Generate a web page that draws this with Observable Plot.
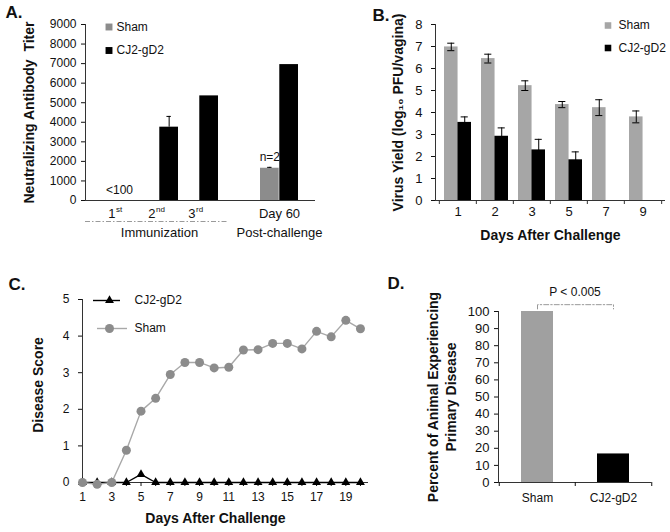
<!DOCTYPE html>
<html><head><meta charset="utf-8">
<script src="https://cdn.jsdelivr.net/npm/d3@7"></script>
<script src="https://cdn.jsdelivr.net/npm/@observablehq/plot@0.6"></script>
<style>
body{margin:0;background:#fff}
#fig{position:relative;width:670px;height:532px;overflow:hidden;background:#fff}
#fig svg{position:absolute;left:0;top:0}
</style></head><body><div id="fig"></div>
<script>
// ---------- Panel A: neutralizing antibody titer ----------
const titerGroups = ["1st", "2nd", "3rd", "Day 60"];
const titerTickMain = ["1", "2", "3", "Day 60"];
const titerTickSup = ["st", "nd", "rd", ""];
const titerSham = [null, null, null, 1650];
const titerShamErr = [null, null, null, 45];
const titerCJ2 = [null, 3750, 5350, 6950];
const titerCJ2Err = [null, 550, null, null];
const titerTicks = [0, 1000, 2000, 3000, 4000, 5000, 6000, 7000, 8000, 9000];

// ---------- Panel B: virus yield ----------
const yieldDays = ["1", "2", "3", "5", "7", "9"];
const yieldSham = [6.98, 6.45, 5.22, 4.36, 4.22, 3.8];
const yieldShamErr = [0.17, 0.2, 0.22, 0.14, 0.36, 0.27];
const yieldCJ2 = [3.55, 2.92, 2.3, 1.85, 0, 0];
const yieldCJ2Err = [0.25, 0.38, 0.48, 0.36, 0, 0];
const yieldTicks = [0, 1, 2, 3, 4, 5, 6, 7, 8];

// ---------- Panel C: disease score ----------
const scoreDays = [1,2,3,4,5,6,7,8,9,10,11,12,13,14,15,16,17,18,19,20];
const scoreSham = [0, -0.05, 0, 0.88, 1.95, 2.3, 2.95, 3.28, 3.28, 3.13, 3.15, 3.62, 3.63, 3.8, 3.8, 3.65, 4.13, 3.98, 4.43, 4.2];
const scoreCJ2 = [0, 0, 0, 0, 0.22, 0, 0, 0, 0, 0, 0, 0, 0, 0, 0, 0, 0, 0, 0, 0];
const scoreTicks = [0, 1, 2, 3, 4, 5];

// ---------- Panel D: percent with primary disease ----------
const diseaseGroups = ["Sham", "CJ2-gD2"];
const diseasePct = [100, 16.7];
const diseaseTicks = [0, 10, 20, 30, 40, 50, 60, 70, 80, 90, 100];
const pValueText = "P < 0.005";
const bracketLevels = [101.5, 104];

// ---------- shared ----------
const FONT = `"Liberation Sans", Arial, Helvetica, sans-serif`;
const W = 670, H = 532;
const INK = "#111";
const fig = document.getElementById("fig");
function mount(opts, fs) {
  const svg = Plot.plot({
    width: W, height: H,
    style: {background: "transparent", fontFamily: FONT, fontSize: fs + "px", color: INK, overflow: "visible"},
    ...opts
  });
  fig.append(svg);
}
function lab(text, o) {
  return Plot.text([text], {text: d => d, fill: INK, lineAnchor: "middle", ...o});
}
const bold = {fontWeight: "bold"};
const vlab = {frameAnchor: "left", rotate: -90, textAnchor: "middle", fontSize: 14, fontWeight: "bold"};

// ===== Panel A =====
{
  const rows = titerGroups.map((g, i) => ({g, main: titerTickMain[i], sup: titerTickSup[i],
    sham: titerSham[i], shamErr: titerShamErr[i], cj2: titerCJ2[i], cj2Err: titerCJ2Err[i]}));
  const domain = ["1st", "2nd", "3rd", "\u00a0", "Day 60"];
  const r0 = 98, r1 = 299, pin = 0.05;
  const step = (r1 - r0) / (domain.length - pin);
  const bw = step * (1 - pin);
  const shamRows = rows.filter(d => d.sham != null);
  const cjRows = rows.filter(d => d.cj2 != null);
  mount({
    marginLeft: 85, marginRight: 355, marginTop: 24, marginBottom: 332,
    x: {type: "band", domain, range: [r0, r1], paddingInner: pin, paddingOuter: 0, axis: null},
    y: {domain: [0, 9000], label: null},
    marks: [
      Plot.barY(shamRows, {x: "g", y: "sham", fill: "#8c8c8c", insetLeft: 0, insetRight: bw / 2}),
      Plot.barY(cjRows, {x: "g", y: "cj2", fill: "#000", insetLeft: bw / 2, insetRight: 0}),
      Plot.ruleX(rows.filter(d => d.cj2Err), {x: "g", y1: "cj2", y2: d => d.cj2 + d.cj2Err, dx: bw / 4, stroke: "#000"}),
      Plot.tickY(rows.filter(d => d.cj2Err), {x: "g", y: d => d.cj2 + d.cj2Err, insetLeft: bw * 0.75 - 2.5, insetRight: bw * 0.25 - 2.5, stroke: "#000"}),
      Plot.ruleX(rows.filter(d => d.shamErr), {x: "g", y1: "sham", y2: d => d.sham + d.shamErr, dx: -bw / 4, stroke: "#000"}),
      Plot.tickY(rows.filter(d => d.shamErr), {x: "g", y: d => d.sham + d.shamErr, insetLeft: bw * 0.25 - 2.5, insetRight: bw * 0.75 - 2.5, stroke: "#000"}),
      Plot.ruleY([0], {stroke: "#333"}),
      Plot.frame({anchor: "left", stroke: "#333"}),
      Plot.axisY({ticks: titerTicks, tickSize: 4, tickPadding: 5, tickFormat: d3.format("d"), label: null}),
      // category labels with superscripts
      Plot.text(rows.filter(d => d.sup), {x: "g", y: () => 0, text: "main", dy: 13, dx: -4, textAnchor: "end", fontSize: 13, fill: INK}),
      Plot.text(rows.filter(d => d.sup), {x: "g", y: () => 0, text: "sup", dy: 9, dx: -3.5, textAnchor: "start", fontSize: 8, fill: INK}),
      Plot.text(rows.filter(d => !d.sup), {x: "g", y: () => 0, text: "main", dy: 13, fontSize: 13, fill: INK}),
      Plot.ruleY([0], {dy: 21, insetRight: 87, stroke: "#9a9a9a", strokeDasharray: "5,2,1.5,2"}),
      Plot.text(rows.filter(d => d.g === "2nd"), {x: "g", y: () => 0, text: () => "Immunization", dy: 32, fontSize: 13, fill: INK}),
      Plot.text(rows.filter(d => d.g === "Day 60"), {x: "g", y: () => 0, text: () => "Post-challenge", dy: 32, fontSize: 13, fill: INK}),
      Plot.text(rows.filter(d => d.g === "1st"), {x: "g", y: () => 0, text: () => "<100", dy: -10, fontSize: 12, fill: INK}),
      Plot.text(shamRows, {x: "g", y: "sham", text: () => "n=2", dx: -bw / 4, dy: -11, fontSize: 12, fill: INK}),
      // legend
      Plot.dot([0], {frameAnchor: "top-left", dx: 23.5, dy: 2.5, symbol: "square", r: 3.9, fill: "#8c8c8c"}),
      Plot.dot([0], {frameAnchor: "top-left", dx: 23.5, dy: 26, symbol: "square", r: 3.9, fill: "#000"}),
      lab("Sham", {frameAnchor: "top-left", dx: 31, dy: 2.5, textAnchor: "start", fontSize: 12}),
      lab("CJ2-gD2", {frameAnchor: "top-left", dx: 31, dy: 26, textAnchor: "start", fontSize: 12}),
      // titles
      lab("Neutralizing Antibody  Titer", {...vlab, dx: -56}),
      lab("A.", {frameAnchor: "top-left", dx: -80, dy: -11.5, textAnchor: "start", fontSize: 17, ...bold})
    ]
  }, 12);
}

// ===== Panel B =====
{
  const rows = yieldDays.map((d, i) => ({d, sham: yieldSham[i], shamErr: yieldShamErr[i], cj2: yieldCJ2[i], cj2Err: yieldCJ2Err[i]}));
  const r0 = 438, r1 = 662, pin = 0.28, pout = 0.14;
  const step = (r1 - r0) / (yieldDays.length - pin + 2 * pout);
  const bw = step * (1 - pin);
  const cap = 3.5;
  mount({
    marginLeft: 435, marginRight: 5, marginTop: 24, marginBottom: 332,
    x: {type: "band", domain: yieldDays, range: [r0, r1], paddingInner: pin, paddingOuter: pout},
    y: {domain: [0, 8], label: null},
    marks: [
      Plot.barY(rows, {x: "d", y: "sham", fill: "#a6a6a6", insetLeft: 0, insetRight: bw / 2}),
      Plot.barY(rows, {x: "d", y: "cj2", fill: "#000", insetLeft: bw / 2, insetRight: 0}),
      Plot.ruleX(rows, {x: "d", y1: d => d.sham - d.shamErr, y2: d => d.sham + d.shamErr, dx: -bw / 4, stroke: "#000"}),
      Plot.tickY(rows, {x: "d", y: d => d.sham + d.shamErr, insetLeft: bw / 4 - cap, insetRight: bw * 0.75 - cap, stroke: "#000"}),
      Plot.tickY(rows, {x: "d", y: d => d.sham - d.shamErr, insetLeft: bw / 4 - cap, insetRight: bw * 0.75 - cap, stroke: "#000"}),
      Plot.ruleX(rows, {x: "d", y1: d => d.cj2 - d.cj2Err, y2: d => d.cj2 + d.cj2Err, dx: bw / 4, stroke: "#000"}),
      Plot.tickY(rows, {x: "d", y: d => d.cj2 + d.cj2Err, insetLeft: bw * 0.75 - cap, insetRight: bw / 4 - cap, stroke: "#000"}),
      Plot.ruleY([0], {stroke: "#333"}),
      Plot.frame({anchor: "left", stroke: "#333"}),
      Plot.axisY({ticks: yieldTicks, tickSize: 4, tickPadding: 9, label: null}),
      Plot.axisX({tickSize: 4, tickFormat: () => "", dx: -step / 2, label: null, stroke: "#333"}),
      Plot.axisX({ticks: [yieldDays[yieldDays.length - 1]], tickSize: 4, tickFormat: () => "", dx: step / 2, label: null, stroke: "#333"}),
      Plot.axisX({tickSize: 0, tickPadding: 6, label: null}),
      // legend
      Plot.dot([0], {frameAnchor: "top-left", dx: 172.5, dy: 1, symbol: "square", r: 3.7, fill: "#a6a6a6"}),
      Plot.dot([0], {frameAnchor: "top-left", dx: 172.5, dy: 23.5, symbol: "square", r: 3.7, fill: "#000"}),
      lab("Sham", {frameAnchor: "top-left", dx: 183, dy: 1, textAnchor: "start", fontSize: 12}),
      lab("CJ2-gD2", {frameAnchor: "top-left", dx: 183, dy: 23.5, textAnchor: "start", fontSize: 12}),
      lab("Virus Yield (log\u2081\u2080 PFU/vagina)", {...vlab, dx: -37}),
      lab("Days After Challenge", {frameAnchor: "bottom", dy: 35, fontSize: 14, ...bold}),
      lab("B.", {frameAnchor: "top-left", dx: -63, dy: -9, textAnchor: "start", fontSize: 17, ...bold})
    ]
  }, 13);
}

// ===== Panel C =====
{
  const sham = scoreDays.map((d, i) => ({d, v: scoreSham[i]}));
  const cj2 = scoreDays.map((d, i) => ({d, v: scoreCJ2[i]}));
  mount({
    marginLeft: 82, marginRight: 302, marginTop: 299, marginBottom: 50,
    x: {domain: [1, 20.55], label: null},
    y: {domain: [0, 5], label: null},
    marks: [
      Plot.ruleY([0], {stroke: "#333"}),
      Plot.frame({anchor: "left", stroke: "#333"}),
      Plot.axisY({ticks: scoreTicks, tickSize: 4, tickPadding: 9, tickFormat: d3.format("d"), label: null}),
      Plot.axisX({ticks: scoreDays, tickSize: 4, tickPadding: 6, tickFormat: d => d % 2 ? String(d) : "", label: null}),
      Plot.line(cj2, {x: "d", y: "v", stroke: "#000", strokeWidth: 1.4}),
      Plot.dot(cj2, {x: "d", y: "v", symbol: "triangle", r: 3.3, fill: "#000", stroke: "none"}),
      Plot.line(sham, {x: "d", y: "v", stroke: "#a8a8a8", strokeWidth: 1.4}),
      Plot.dot(sham, {x: "d", y: "v", symbol: "circle", r: 4.5, fill: "#8c8c8c", stroke: "none"}),
      // legend
      Plot.ruleY([5], {dy: 1, insetLeft: 11, insetRight: 248, stroke: "#000", strokeWidth: 1.4}),
      Plot.dot([0], {frameAnchor: "top-left", dx: 27, dy: 1, symbol: "triangle", r: 3.3, fill: "#000"}),
      Plot.ruleY([5], {dy: 29, insetLeft: 15, insetRight: 241, stroke: "#a8a8a8", strokeWidth: 1.4}),
      Plot.dot([0], {frameAnchor: "top-left", dx: 27, dy: 29, symbol: "circle", r: 4.5, fill: "#8c8c8c"}),
      lab("CJ2-gD2", {frameAnchor: "top-left", dx: 52, dy: 1, textAnchor: "start", fontSize: 12}),
      lab("Sham", {frameAnchor: "top-left", dx: 52, dy: 29, textAnchor: "start", fontSize: 12}),
      lab("Disease Score", {...vlab, dx: -44, dy: -6}),
      lab("Days After Challenge", {frameAnchor: "bottom", dx: -10, dy: 36, fontSize: 14, ...bold}),
      lab("C.", {frameAnchor: "top-left", dx: -74, dy: -15, textAnchor: "start", fontSize: 17, ...bold})
    ]
  }, 12);
}

// ===== Panel D =====
{
  const rows = diseaseGroups.map((g, i) => ({g, v: diseasePct[i]}));
  const r0 = 498, r1 = 651, pin = 0.58, pout = 0.29;
  const step = (r1 - r0) / (diseaseGroups.length - pin + 2 * pout);
  const bracket = [
    {g: diseaseGroups[0], v: bracketLevels[0]},
    {g: diseaseGroups[0], v: bracketLevels[1]},
    {g: diseaseGroups[1], v: bracketLevels[1]},
    {g: diseaseGroups[1], v: bracketLevels[0]}
  ];
  mount({
    marginLeft: 498, marginRight: 19, marginTop: 311, marginBottom: 50,
    x: {type: "band", domain: diseaseGroups, paddingInner: pin, paddingOuter: pout},
    y: {domain: [0, 100], label: null},
    marks: [
      Plot.barY(rows.filter(d => d.g === "Sham"), {x: "g", y: "v", fill: "#a0a0a0", inset: 0}),
      Plot.barY(rows.filter(d => d.g !== "Sham"), {x: "g", y: "v", fill: "#000", inset: 0}),
      Plot.ruleY([0], {stroke: "#333"}),
      Plot.frame({anchor: "left", stroke: "#333"}),
      Plot.axisY({ticks: diseaseTicks, tickSize: 4, tickPadding: 5, label: null}),
      Plot.axisX({tickSize: 4, tickFormat: () => "", dx: -step / 2, label: null}),
      Plot.axisX({ticks: [diseaseGroups[1]], tickSize: 4, tickFormat: () => "", dx: step / 2, label: null}),
      Plot.axisX({tickSize: 0, tickPadding: 11, label: null, fontSize: 12}),
      Plot.line(bracket, {x: "g", y: "v", stroke: "#999", strokeWidth: 1, strokeDasharray: "5,2,1.5,2"}),
      lab(pValueText, {frameAnchor: "top", dy: -19, fontSize: 12}),
      lab("Percent of Animal Experiencing\nPrimary Disease", {...vlab, dx: -57, lineHeight: 1.29}),
      lab("D.", {frameAnchor: "top-left", dx: -111, dy: -28, textAnchor: "start", fontSize: 17, ...bold})
    ]
  }, 13);
}
</script>
</body></html>
